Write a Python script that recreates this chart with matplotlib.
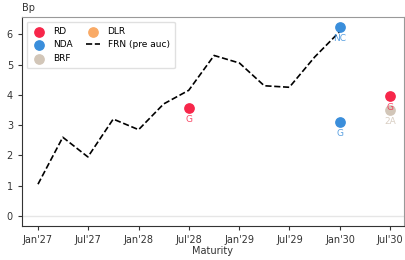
import matplotlib
matplotlib.use("Agg")
import matplotlib.pyplot as plt
import matplotlib.dates as mdates
import pandas as pd

# FRN curve (pre auction), quarterly maturities
frn_dates = pd.to_datetime([
    "2027-01-01", "2027-04-01", "2027-07-01", "2027-10-01",
    "2028-01-01", "2028-04-01", "2028-07-01", "2028-10-01",
    "2029-01-01", "2029-04-01", "2029-07-01", "2029-10-01",
    "2030-01-01",
])
frn_values = [1.05, 2.6, 1.95, 3.2, 2.85, 3.7, 4.15, 5.3, 5.05, 4.3, 4.25, 5.25, 6.1]

# issuer points
rd_dates = pd.to_datetime(["2028-07-01", "2030-07-01"])
rd_values = [3.55, 3.95]
rd_labels = ["G", "G"]

nda_dates = pd.to_datetime(["2030-01-01", "2030-01-01"])
nda_values = [6.25, 3.1]
nda_labels = ["NC", "G"]

brf_dates = pd.to_datetime(["2030-07-01"])
brf_values = [3.5]
brf_labels = ["2A"]

dlr_dates = pd.to_datetime([])
dlr_values = []
dlr_labels = []

colors = {"RD": "#f7264a", "NDA": "#3a8edb", "BRF": "#d2c6b8", "DLR": "#f9aa66"}

fig = plt.figure(figsize=(4.06, 2.6), dpi=100)
ax = fig.add_axes([22 / 406, 34 / 260, 382 / 406, 209 / 260])

ax.axhline(0, color="#e6e6e6", lw=1, zorder=0)

series = [
    ("RD", rd_dates, rd_values, rd_labels),
    ("NDA", nda_dates, nda_values, nda_labels),
    ("BRF", brf_dates, brf_values, brf_labels),
    ("DLR", dlr_dates, dlr_values, dlr_labels),
]
handles = {}
for name, d, v, labs in series:
    handles[name] = ax.scatter(d, v, s=45, color=colors[name], label=name, zorder=3)
    for xi, yi, t in zip(d, v, labs):
        ax.annotate(t, (xi, yi), xytext=(0, -5), textcoords="offset points",
                    ha="center", va="top", fontsize=6.5, color=colors[name],
                    alpha=0.85, zorder=5)

line, = ax.plot(frn_dates, frn_values, "k--", lw=1.2, label="FRN (pre auc)", zorder=2)

ax.legend([handles["RD"], handles["NDA"], handles["BRF"], handles["DLR"], line],
          ["RD", "NDA", "BRF", "DLR", "FRN (pre auc)"],
          ncol=2, loc="upper left", fontsize=6.5, frameon=True, framealpha=0.9,
          edgecolor="#dddddd", handlelength=1.6, handletextpad=0.8,
          columnspacing=1.4, borderpad=0.6)

ax.set_xlim(pd.Timestamp("2026-11-04"), pd.Timestamp("2030-08-21"))
ax.set_ylim(-0.33, 6.57)
ax.set_yticks(range(0, 7))
ax.xaxis.set_major_locator(mdates.MonthLocator(bymonth=[1, 7]))
ax.xaxis.set_major_formatter(mdates.DateFormatter("%b'%y"))
ax.tick_params(labelsize=7, colors="#333333", length=3)
ax.set_xlabel("Maturity", fontsize=7, color="#333333", labelpad=1)
ax.text(0, 1.02, "Bp", transform=ax.transAxes, fontsize=7, color="#333333",
        ha="left", va="bottom")
for s in ["left", "bottom"]:
    ax.spines[s].set_color("#333333")
for s in ["top", "right"]:
    ax.spines[s].set_color("#999999")

fig.savefig("out.png", dpi=100)
